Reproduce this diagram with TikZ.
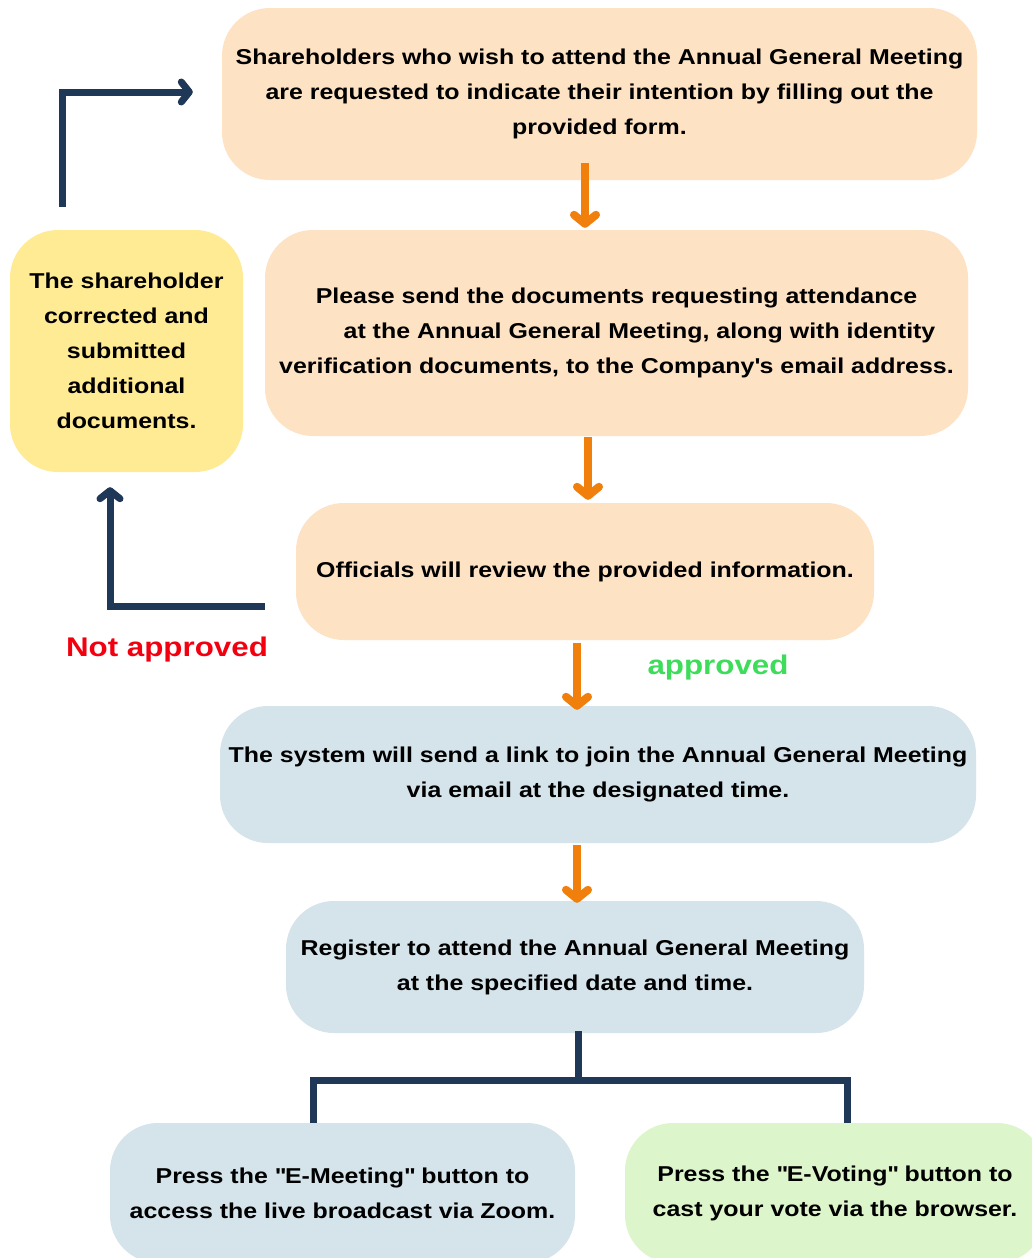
\documentclass[tikz,border=0pt]{standalone}
\usepackage{fontspec}
\setmainfont{Liberation Sans}[FakeStretch=1.16]
\usetikzlibrary{arrows.meta}
\definecolor{peach}{HTML}{FDE2C4}
\definecolor{butter}{HTML}{FFEB94}
\definecolor{paleblue}{HTML}{D4E4EA}
\definecolor{palegreen}{HTML}{DDF5CB}
\definecolor{arrorange}{HTML}{F07F0B}
\definecolor{navy}{HTML}{1F3858}
\definecolor{redlbl}{HTML}{F2000F}
\definecolor{greenlbl}{HTML}{3DDC5A}
\tikzset{
  box/.style={rounded corners=48pt, inner sep=0pt, align=center,
    font=\fontsize{21.5}{35}\selectfont\bfseries, text=black},
  flowarrow/.style={draw=arrorange, line width=8pt,
    -{Straight Barb[length=9pt,width=22pt,round]}},
  backarrow/.style={draw=navy, line width=7pt,
    -{Straight Barb[length=8pt,width=20pt,round]}},
  bracket/.style={draw=navy, line width=7pt},
  lbl/.style={font=\fontsize{27}{30}\selectfont\bfseries, inner sep=0pt}
}
\begin{document}
\begin{tikzpicture}[x=1pt,y=-1pt]
\useasboundingbox (0,0) rectangle (1031,1258);
\fill[white] (0,0) rectangle (1031,1258);

\node[box, fill=peach, minimum width=755pt, minimum height=172pt] (b1) at (599.5,94)
  {Shareholders who wish to attend the Annual General Meeting\\
   are requested to indicate their intention by filling out the\\
   provided form.};
\node[box, fill=peach, minimum width=703pt, minimum height=206pt] (b2) at (616.5,333)
  {Please send the documents requesting attendance\\
   \hspace*{46pt}at the Annual General Meeting, along with identity\\
   verification documents, to the Company\textquotesingle s email address.};
\node[box, fill=butter, minimum width=233pt, minimum height=242pt] (y1) at (126.5,351)
  {The shareholder\\ corrected and\\ submitted\\ additional\\ documents.};
\node[box, fill=peach, minimum width=578pt, minimum height=137pt] (b3) at (585,571.5)
  {Officials will review the provided information.};
\node[box, fill=paleblue, minimum width=756pt, minimum height=137pt] (c1) at (598,774.5)
  {The system will send a link to join the Annual General Meeting\\
   via email at the designated time.};
\node[box, fill=paleblue, minimum width=578pt, minimum height=132pt] (c2) at (575,967)
  {\raisebox{-3pt}{\parbox{570pt}{\centering Register to attend the Annual General Meeting\\
   at the specified date and time.}}};
\node[box, fill=paleblue, minimum width=465pt, minimum height=140pt] (d1) at (342.5,1193)
  {Press the \textquotedbl E-Meeting\textquotedbl\ button to\\ access the live broadcast via Zoom.};
\node[box, fill=palegreen, minimum width=420pt, minimum height=140pt] (d2) at (835,1193)
  {Press the \textquotedbl E-Voting\textquotedbl\ button to\\ cast your vote via the browser.};

% orange flow arrows
\draw[flowarrow] ([xshift=-14.5pt,yshift=17pt]b1.south) -- ([xshift=-14.5pt,yshift=2pt]b1.south |- b2.north);
\draw[flowarrow] ([xshift=-28.5pt,yshift=-1pt]b2.south) -- ([xshift=-28.5pt,yshift=3pt]b2.south |- b3.north);
\draw[flowarrow] ([xshift=-8pt,yshift=-3pt]b3.south) -- ([xshift=-8pt,yshift=-4pt]b3.south |- c1.north);
\draw[flowarrow] ([xshift=-21pt,yshift=-2pt]c1.south) -- ([xshift=-21pt,yshift=-2pt]c1.south |- c2.north);

% navy return arrows
\coordinate (r1a) at ([xshift=-64.5pt,yshift=23pt]y1.north);
\coordinate (r1b) at ([xshift=-29pt,yshift=2pt]b1.west);
\draw[backarrow] (r1a) |- (r1b);
\coordinate (r2a) at ([xshift=-31pt,yshift=-34.5pt]b3.west);
\coordinate (r2b) at ([xshift=-16.5pt,yshift=-15pt]y1.south);
\draw[backarrow] (r2a) -| (r2b);

% bracket
\coordinate (bj) at ([xshift=3pt,yshift=-47pt]c2.south);
\draw[bracket] ([xshift=3pt,yshift=2pt]c2.south) -- (bj);
\draw[bracket] ([xshift=-29.5pt]d1.north) |- (bj) -| ([xshift=12pt]d2.north);

% labels
\node[lbl, text=redlbl] (na) at (167,650) {Not approved};
\node[lbl, text=greenlbl] (ap) at (718,668) {approved};
\end{tikzpicture}
\end{document}
